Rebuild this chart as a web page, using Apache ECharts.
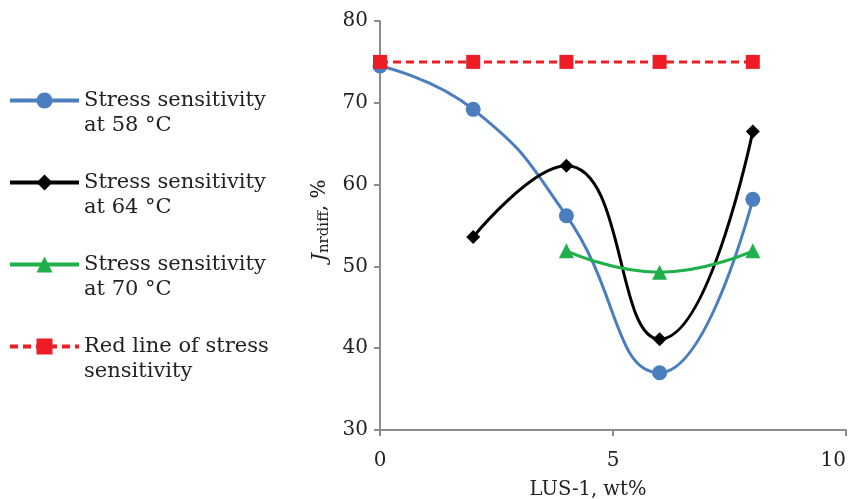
<!DOCTYPE html>
<html>
<head>
<meta charset="utf-8">
<script src="https://cdn.jsdelivr.net/npm/echarts@6/dist/echarts.min.js"></script>
<style>html,body{margin:0;padding:0;background:#fff;}#c{width:852px;height:499px;}</style>
</head>
<body>
<div id="c"></div>
<script>
const seriesNames = ['Stress sensitivity at 58 °C', 'Stress sensitivity at 64 °C', 'Stress sensitivity at 70 °C', 'Red line of stress sensitivity'];
const legendLines = [
  ['Stress sensitivity', 'at 58 °C'],
  ['Stress sensitivity', 'at 64 °C'],
  ['Stress sensitivity', 'at 70 °C'],
  ['Red line of stress', 'sensitivity']
];
const x58 = [0, 2, 4, 6, 8];
const y58 = [74.5, 69.2, 56.2, 37.0, 58.2];
const x64 = [2, 4, 6, 8];
const y64 = [53.6, 62.3, 41.1, 66.5];
const x70 = [4, 6, 8];
const y70 = [51.9, 49.3, 51.9];
const xRed = [0, 2, 4, 6, 8];
const yRed = [75, 75, 75, 75, 75];
const xTicks = [0, 5, 10];
const yTicks = [30, 40, 50, 60, 70, 80];

const pairs = (xs, ys) => xs.map((x, i) => [x, ys[i]]);
const FONT = 'DejaVu Serif';
const TXT = '#222';
const chart = echarts.init(document.getElementById('c'), null, {renderer: 'canvas'});
chart.setOption({
  animation: false,
  backgroundColor: '#fff',
  textStyle: {fontFamily: FONT},
  grid: {left: 380, right: 6, top: 21, bottom: 69, containLabel: false, outerBoundsMode: 'none'},
  legend: {
    orient: 'vertical',
    left: 8,
    top: 63,
    padding: 0,
    itemWidth: 69,
    itemHeight: 20,
    itemGap: 7,
    data: seriesNames,
    lineStyle: {width: 4},
    formatter: name => {
      const l = legendLines[seriesNames.indexOf(name)];
      return ' \n' + l[0] + '\n' + l[1];
    },
    textStyle: {fontFamily: FONT, fontSize: 21, color: TXT, lineHeight: 25}
  },
  xAxis: {
    type: 'value', min: xTicks[0], max: xTicks[xTicks.length - 1], interval: 5,
    name: 'LUS-1, wt%', nameLocation: 'middle', nameGap: 50,
    nameTextStyle: {fontFamily: FONT, fontSize: 19.5, color: TXT, padding: [0, 50, 0, 0]},
    axisLine: {show: true, lineStyle: {color: '#8c8c8c', width: 2}},
    axisTick: {show: true, inside: false, length: 6, lineStyle: {color: '#8c8c8c', width: 2}},
    axisLabel: {fontFamily: FONT, fontSize: 20, color: TXT, margin: 21, alignMaxLabel: 'right'},
    splitLine: {show: false}
  },
  yAxis: {
    type: 'value', min: yTicks[0], max: yTicks[yTicks.length - 1], interval: 10,
    name: '{i|J}{s|nrdiff}{n|, %}', nameLocation: 'middle', nameGap: 44, nameRotate: 90,
    nameTextStyle: {
      padding: [0, 0, 0, 10],
      rich: {
        i: {fontFamily: FONT, fontSize: 21, fontStyle: 'italic', color: TXT},
        s: {fontFamily: FONT, fontSize: 15, color: TXT, verticalAlign: 'bottom', padding: [8, 0, 0, 0]},
        n: {fontFamily: FONT, fontSize: 20, color: TXT}
      }
    },
    axisLine: {show: true, lineStyle: {color: '#8c8c8c', width: 2}},
    axisTick: {show: true, inside: false, length: 6, lineStyle: {color: '#8c8c8c', width: 2}},
    axisLabel: {fontFamily: FONT, fontSize: 20, color: TXT, margin: 12},
    splitLine: {show: false}
  },
  series: [
    {
      name: seriesNames[0], type: 'line', smooth: 0.5, data: pairs(x58, y58),
      symbol: 'circle', symbolSize: 15,
      lineStyle: {color: '#4a7ebf', width: 3}, itemStyle: {color: '#4a7ebf'}, z: 3
    },
    {
      name: seriesNames[1], type: 'line', smooth: 0.5, data: pairs(x64, y64),
      symbol: 'diamond', symbolSize: 14,
      lineStyle: {color: '#000', width: 3}, itemStyle: {color: '#000'}, z: 4
    },
    {
      name: seriesNames[2], type: 'line', smooth: 0.5, data: pairs(x70, y70),
      symbol: 'triangle', symbolSize: 15,
      lineStyle: {color: '#1fb04b', width: 3}, itemStyle: {color: '#1fb04b'}, z: 5
    },
    {
      name: seriesNames[3], type: 'line', smooth: false, data: pairs(xRed, yRed),
      symbol: 'rect', symbolSize: 14,
      lineStyle: {color: '#ee1c24', width: 3, type: [8, 5]}, itemStyle: {color: '#ee1c24'}, z: 6
    }
  ]
});
</script>
</body>
</html>
